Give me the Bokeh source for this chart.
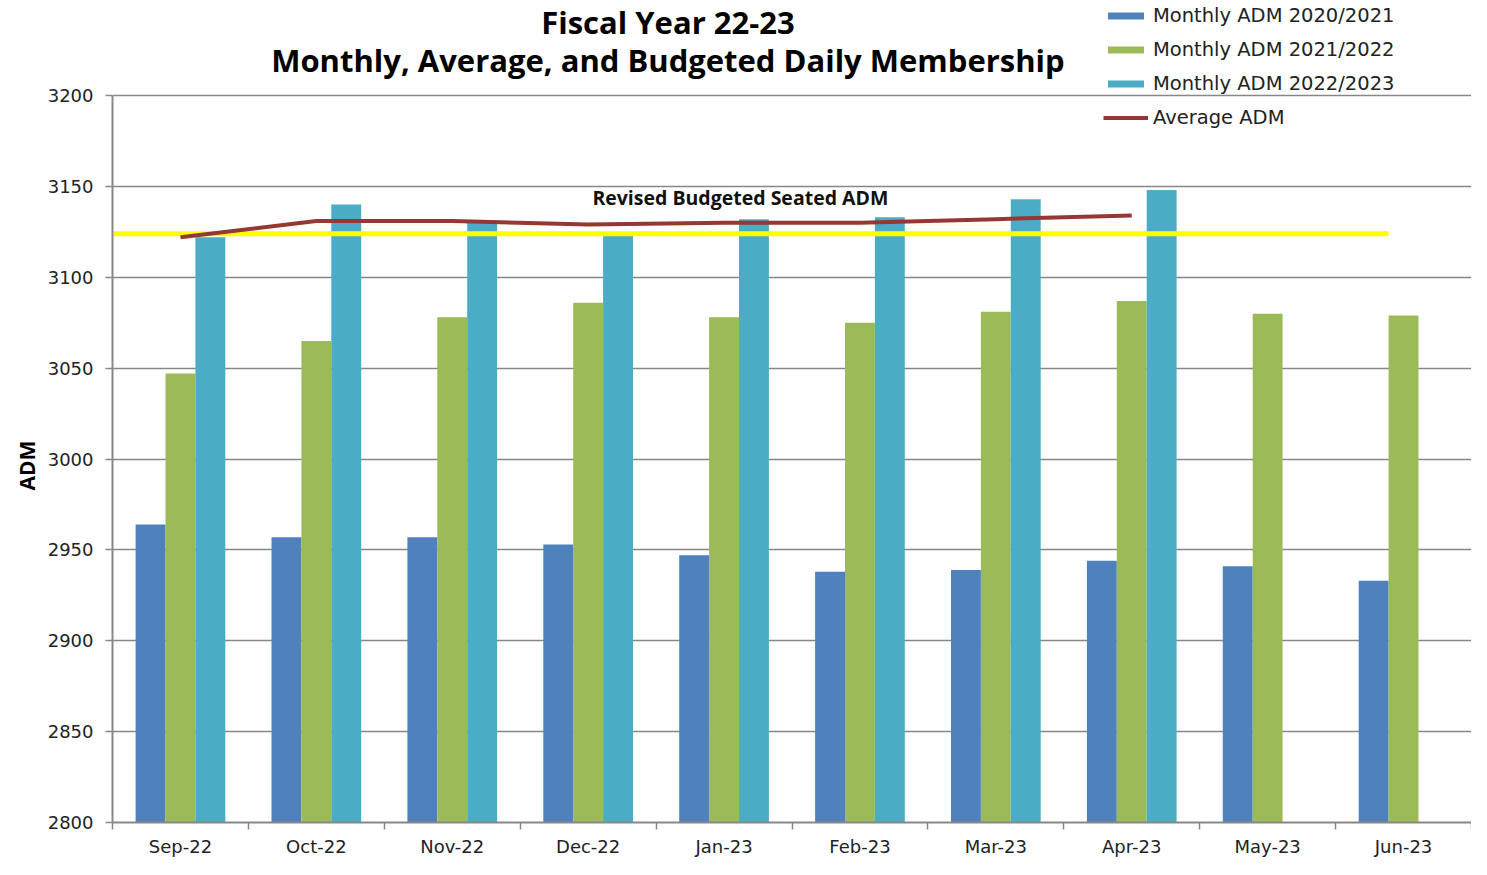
from bokeh.plotting import figure
from bokeh.models import FixedTicker, Legend, LegendItem, Label, Range1d, ColumnDataSource, Title
from bokeh.embed import file_html
from bokeh.resources import INLINE

months = ["Sep-22", "Oct-22", "Nov-22", "Dec-22", "Jan-23", "Feb-23", "Mar-23", "Apr-23", "May-23", "Jun-23"]
adm_2020_2021 = [2964, 2957, 2957, 2953, 2947, 2938, 2939, 2944, 2941, 2933]
adm_2021_2022 = [3047, 3065, 3078, 3086, 3078, 3075, 3081, 3087, 3080, 3079]
adm_2022_2023 = [3122, 3140, 3130, 3123, 3132, 3133, 3143, 3148]
average_adm = [3122, 3131, 3131, 3129, 3130, 3130, 3132, 3134]
budgeted_adm = 3124
y_ticks = [2800, 2850, 2900, 2950, 3000, 3050, 3100, 3150, 3200]

BLUE = "#4F81BD"
GREEN = "#9BBB59"
CYAN = "#4BACC6"
RED = "#953735"
YELLOW = "#FFFF00"
GRID = "#878787"
FONT = "DejaVu Sans"
BOLD = "Open Sans"

centers = [i + 0.5 for i in range(len(months))]
bw = 0.22
Y_TOP = 3252.3  # extra room above the 3200 gridline for title and legend

p = figure(width=1471, height=859, x_range=Range1d(0, 10), y_range=Range1d(2800, Y_TOP),
           output_backend="svg", toolbar_location=None,
           min_border_left=112, min_border_right=0, min_border_top=0, min_border_bottom=0)
p.outline_line_color = None
p.background_fill_color = "white"
p.border_fill_color = "white"

# bars
src1 = ColumnDataSource(dict(x=[c - bw for c in centers], top=adm_2020_2021))
src2 = ColumnDataSource(dict(x=centers, top=adm_2021_2022))
src3 = ColumnDataSource(dict(x=[c + bw for c in centers[:len(adm_2022_2023)]], top=adm_2022_2023))
r1 = p.vbar(x="x", top="top", bottom=2800, width=bw, source=src1, fill_color=BLUE, line_color=None)
r2 = p.vbar(x="x", top="top", bottom=2800, width=bw, source=src2, fill_color=GREEN, line_color=None)
r3 = p.vbar(x="x", top="top", bottom=2800, width=bw, source=src3, fill_color=CYAN, line_color=None)

# budget line
p.line(x=[-0.15, 9.39], y=[budgeted_adm, budgeted_adm], line_color=YELLOW, line_width=5)
# average line
r4 = p.line(x=centers[:len(average_adm)], y=average_adm, line_color=RED, line_width=4)

# axes
p.xgrid.visible = False
p.ygrid.grid_line_color = GRID
p.ygrid.grid_line_width = 1.5
p.ygrid.ticker = FixedTicker(ticks=y_ticks)

p.yaxis.ticker = FixedTicker(ticks=y_ticks)
p.yaxis.bounds = (2800, 3200)
p.yaxis.axis_line_color = GRID
p.yaxis.axis_line_width = 2
p.yaxis.major_tick_line_color = GRID
p.yaxis.major_tick_line_width = 1.5
p.yaxis.major_tick_out = 7
p.yaxis.major_tick_in = 0
p.yaxis.minor_tick_line_color = None
p.yaxis.major_label_text_font = FONT
p.yaxis.major_label_text_font_size = "18px"
p.yaxis.major_label_text_color = "#222222"
p.yaxis.major_label_standoff = 12

# y axis title, positioned along the 2800-3200 span
p.add_layout(Title(text="ADM", align="left", offset=332, text_font=BOLD, text_font_style="bold",
                   text_font_size="21px", text_color="black", standoff=8), "left")

p.xaxis.ticker = FixedTicker(ticks=centers, minor_ticks=list(range(len(months) + 1)))
p.xaxis.major_label_overrides = {c: m for c, m in zip(centers, months)}
p.xaxis.axis_line_color = GRID
p.xaxis.axis_line_width = 2
p.xaxis.major_tick_line_color = None
p.xaxis.major_tick_out = 0
p.xaxis.major_tick_in = 0
p.xaxis.minor_tick_line_color = GRID
p.xaxis.minor_tick_line_width = 1.5
p.xaxis.minor_tick_out = 7
p.xaxis.minor_tick_in = 0
p.xaxis.major_label_text_font = FONT
p.xaxis.major_label_text_font_size = "18px"
p.xaxis.major_label_text_color = "#222222"
p.xaxis.major_label_standoff = 6

# legend
legend = Legend(items=[
    LegendItem(label="Monthly ADM 2020/2021", renderers=[r1]),
    LegendItem(label="Monthly ADM 2021/2022", renderers=[r2]),
    LegendItem(label="Monthly ADM 2022/2023", renderers=[r3]),
    LegendItem(label="Average ADM", renderers=[r4]),
], location=(991, 693))
legend.background_fill_alpha = 0
legend.border_line_color = None
legend.label_text_font = FONT
legend.label_text_font_size = "19.5px"
legend.label_text_color = "#222222"
legend.glyph_width = 45
legend.glyph_height = 9
legend.label_height = 18
legend.spacing = 11
legend.padding = 0
legend.margin = 0
legend.label_standoff = 5
p.add_layout(legend, "center")

# annotation text
p.add_layout(Label(x=4.62, y=3143.9, text="Revised Budgeted Seated ADM", text_align="center",
                   text_baseline="middle", text_font=BOLD, text_font_style="bold",
                   text_font_size="19.5px", text_color="#111111"))

# title
p.add_layout(Label(x=4.087, y=3240.2, text="Fiscal Year 22-23", text_align="center",
                   text_baseline="middle", text_font=BOLD, text_font_style="bold",
                   text_font_size="31px", text_color="black"))
p.add_layout(Label(x=4.087, y=3219.5, text="Monthly, Average, and Budgeted Daily Membership",
                   text_align="center", text_baseline="middle", text_font=BOLD,
                   text_font_style="bold", text_font_size="31px", text_color="black"))

open("out.html", "w").write(file_html(p, INLINE))
